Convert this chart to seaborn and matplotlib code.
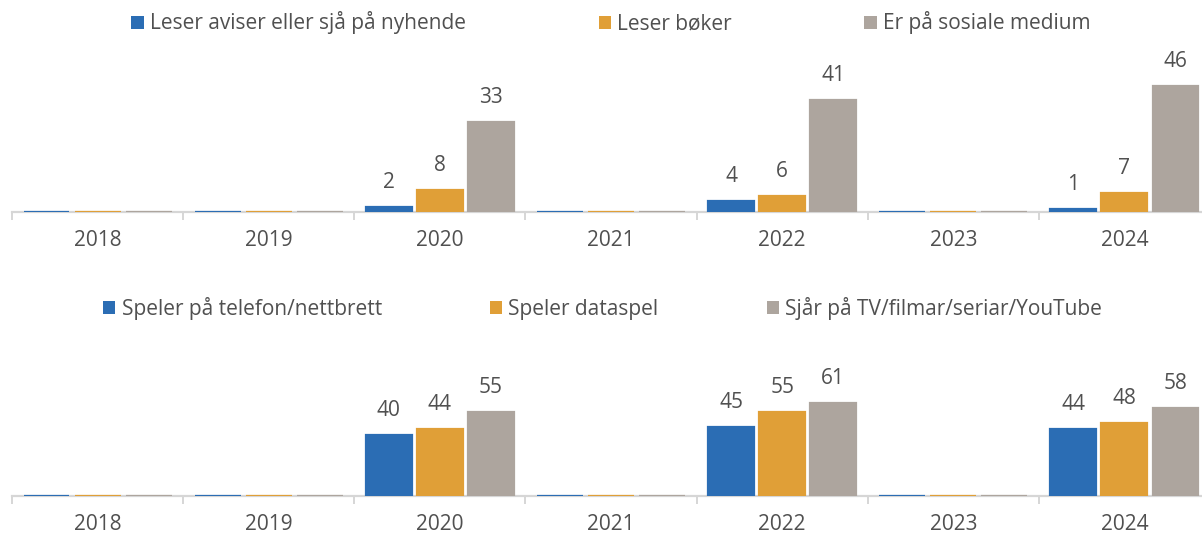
import matplotlib
matplotlib.use("Agg")
import matplotlib.pyplot as plt
from matplotlib.patches import Patch
import pandas as pd
import seaborn as sns

years = ["2018", "2019", "2020", "2021", "2022", "2023", "2024"]

top_series = ["Leser aviser eller sjå på nyhende", "Leser bøker", "Er på sosiale medium"]
top_news = [0, 0, 2, 0, 4, 0, 1]
top_books = [0, 0, 8, 0, 6, 0, 7]
top_social = [0, 0, 33, 0, 41, 0, 46]

bottom_series = ["Speler på telefon/nettbrett", "Speler dataspel", "Sjår på TV/filmar/seriar/YouTube"]
bottom_mobile = [0, 0, 40, 0, 45, 0, 44]
bottom_games = [0, 0, 44, 0, 55, 0, 48]
bottom_tv = [0, 0, 55, 0, 61, 0, 58]

colors = ["#2B6DB4", "#E09F37", "#ADA59E"]
text_color = "#505050"
axis_color = "#D6D6D6"

sns.set_theme(style="white")
plt.rcParams["font.family"] = ["Open Sans", "DejaVu Sans"]
plt.rcParams["font.size"] = 15


def long_frame(series, values):
    rows = []
    for name, vals in zip(series, values):
        for y, v in zip(years, vals):
            rows.append({"year": y, "serie": name, "value": v})
    return pd.DataFrame(rows)


fig = plt.figure(figsize=(12.02, 5.33), dpi=100)
ax_top = fig.add_axes([12 / 1202, 1 - 212 / 533, 1198 / 1202, 137 / 533])
ax_bot = fig.add_axes([12 / 1202, 1 - 496 / 533, 1198 / 1202, 152.5 / 533])

panels = [
    (ax_top, top_series, [top_news, top_books, top_social], 50, 1 - 23 / 533, 6.36, 611),
    (ax_bot, bottom_series, [bottom_mobile, bottom_games, bottom_tv], 100, 1 - 308 / 533, 5.18, 602.5),
]

for ax, series, values, ymax, legend_y, colspace, legend_x in panels:
    df = long_frame(series, values)
    sns.barplot(data=df, x="year", y="value", hue="serie", hue_order=series,
                order=years, palette=colors, saturation=1, width=0.895, gap=0.1,
                errorbar=None, legend=False, ax=ax, zorder=2)
    for container, vals in zip(ax.containers, values):
        for bar in container:
            bar.set_edgecolor(bar.get_facecolor())
            bar.set_linewidth(1.6)
        ax.bar_label(container, labels=[str(v) if v else "" for v in vals],
                     padding=10, color=text_color, fontsize=15)
    ax.set_ylim(0, ymax)
    ax.set_xlim(-0.5, len(years) - 0.5)
    ax.set_xlabel("")
    ax.set_ylabel("")
    ax.set_yticks([])
    for side in ["left", "right", "top"]:
        ax.spines[side].set_visible(False)
    ax.spines["bottom"].set_color(axis_color)
    ax.spines["bottom"].set_linewidth(1.6)
    ax.spines["bottom"].set_zorder(1)
    ax.set_xticks(range(len(years)))
    ax.set_xticklabels(years)
    ax.set_xticks([i - 0.5 for i in range(len(years) + 1)], minor=True)
    ax.tick_params(axis="x", which="major", length=0, pad=13, labelsize=15,
                   labelcolor=text_color)
    ax.tick_params(axis="x", which="minor", length=6, width=1.4, color=axis_color,
                   bottom=True)
    handles = [Patch(facecolor=c, edgecolor="none") for c in colors]
    fig.legend(handles, series, loc="center", bbox_to_anchor=(legend_x / 1202, legend_y),
               ncol=3, frameon=False, handlelength=0.6, handleheight=0.6,
               handletextpad=0.3, columnspacing=colspace, fontsize=15,
               labelcolor=text_color, borderaxespad=0, borderpad=0)

fig.savefig("out.png", dpi=100)
